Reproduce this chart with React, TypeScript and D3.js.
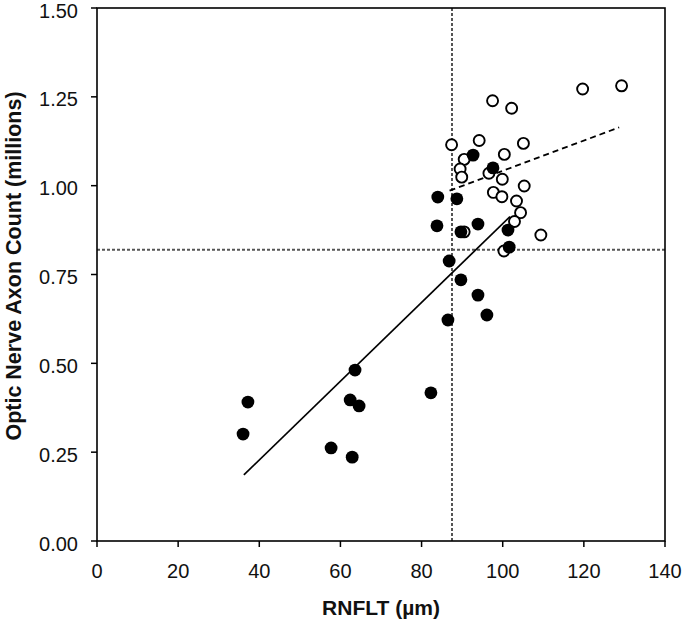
import React from "react";
import * as d3 from "d3";

// Filled circles (group 1): RNFLT (µm), axon count (millions)
const filledX = [36.0, 37.2, 57.7, 62.4, 62.9, 63.6, 64.6, 82.3, 84.0, 83.8, 86.8, 86.5, 88.7, 89.7, 89.7, 92.7, 93.9, 93.9, 96.1, 97.6, 101.3, 101.6];
const filledY = [0.301, 0.391, 0.262, 0.397, 0.236, 0.481, 0.380, 0.417, 0.968, 0.887, 0.788, 0.622, 0.963, 0.870, 0.735, 1.086, 0.892, 0.692, 0.636, 1.050, 0.875, 0.827];

// Open circles (group 2)
const openX = [87.4, 94.2, 97.5, 102.2, 105.1, 119.7, 129.3, 90.5, 89.5, 89.9, 100.4, 99.9, 96.6, 97.7, 99.8, 105.3, 103.4, 104.4, 102.9, 109.4, 100.3, 90.5];
const openY = [1.115, 1.127, 1.239, 1.218, 1.119, 1.272, 1.281, 1.074, 1.047, 1.024, 1.088, 1.018, 1.035, 0.981, 0.969, 0.999, 0.957, 0.924, 0.899, 0.861, 0.816, 0.870];

// Regression lines (endpoints in data units)
const solidFitX = [36.2, 101.8];
const solidFitY = [0.186, 0.913];
const dashedFitX = [86.9, 128.7];
const dashedFitY = [0.986, 1.164];

// Cutoff reference lines
const cutoffX = 87.5;
const cutoffY = 0.82;

const xTicks = [0, 20, 40, 60, 80, 100, 120, 140];
const yTicks = [0, 0.25, 0.5, 0.75, 1.0, 1.25, 1.5];

const W = 685;
const H = 627;
const left = 97;
const right = 665;
const top = 8;
const bottom = 541;

export default function App() {
  const x = d3.scaleLinear().domain([0, 140]).range([left, right]);
  const y = d3.scaleLinear().domain([0, 1.5]).range([bottom, top]);
  const line = d3
    .line<[number, number]>()
    .x((d) => x(d[0]))
    .y((d) => y(d[1]));

  const solid: [number, number][] = solidFitX.map((v, i) => [v, solidFitY[i]]);
  const dashed: [number, number][] = dashedFitX.map((v, i) => [v, dashedFitY[i]]);

  const font = "'Liberation Sans', Arial, sans-serif";

  return (
    <svg
      width={W}
      height={H}
      style={{ position: "absolute", left: 0, top: 0, background: "#fff" }}
      fontFamily={font}
    >
      <rect x={0} y={0} width={W} height={H} fill="#fff" />
      {/* reference lines */}
      <line
        x1={x(cutoffX)}
        x2={x(cutoffX)}
        y1={y(0)}
        y2={y(1.5)}
        stroke="#555"
        strokeWidth={2}
        strokeDasharray="3,2"
      />
      <line
        x1={x(0)}
        x2={x(140)}
        y1={y(cutoffY)}
        y2={y(cutoffY)}
        stroke="#555"
        strokeWidth={2}
        strokeDasharray="3,2"
      />
      {/* frame */}
      <rect
        x={left}
        y={top}
        width={right - left}
        height={bottom - top}
        fill="none"
        stroke="#000"
        strokeWidth={1.6}
      />
      {/* y ticks */}
      {yTicks.map((t) => (
        <g key={"y" + t}>
          <line x1={left - 6} x2={left} y1={y(t)} y2={y(t)} stroke="#000" strokeWidth={1.5} />
          <text
            x={left - 19}
            y={y(t) + 2.5}
            dy="0.35em"
            textAnchor="end"
            fontSize={20}
            fill="#111"
          >
            {d3.format(".2f")(t)}
          </text>
        </g>
      ))}
      {/* x ticks */}
      {xTicks.map((t) => (
        <g key={"x" + t}>
          <line x1={x(t)} x2={x(t)} y1={bottom} y2={bottom + 6} stroke="#000" strokeWidth={1.5} />
          <text x={x(t)} y={bottom + 37} textAnchor="middle" fontSize={20} fill="#111">
            {t}
          </text>
        </g>
      ))}
      {/* regression lines */}
      <path d={line(solid) || ""} fill="none" stroke="#000" strokeWidth={1.7} />
      <path d={line(dashed) || ""} fill="none" stroke="#000" strokeWidth={1.8} strokeDasharray="6,4" />
      {/* open points */}
      {openX.map((v, i) => (
        <circle key={"o" + i} cx={x(v)} cy={y(openY[i])} r={5.5} fill="#fff" stroke="#000" strokeWidth={1.9} />
      ))}
      {/* filled points */}
      {filledX.map((v, i) => (
        <circle key={"f" + i} cx={x(v)} cy={y(filledY[i])} r={6.4} fill="#000" />
      ))}
      {/* axis titles */}
      <text
        x={(left + right) / 2}
        y={615}
        textAnchor="middle"
        fontSize={21}
        fontWeight="bold"
        fill="#111"
      >
        RNFLT (µm)
      </text>
      <text
        transform={`translate(21, 266) rotate(-90)`}
        textAnchor="middle"
        fontSize={21.5}
        fontWeight="bold"
        fill="#111"
      >
        Optic Nerve Axon Count (millions)
      </text>
    </svg>
  );
}
